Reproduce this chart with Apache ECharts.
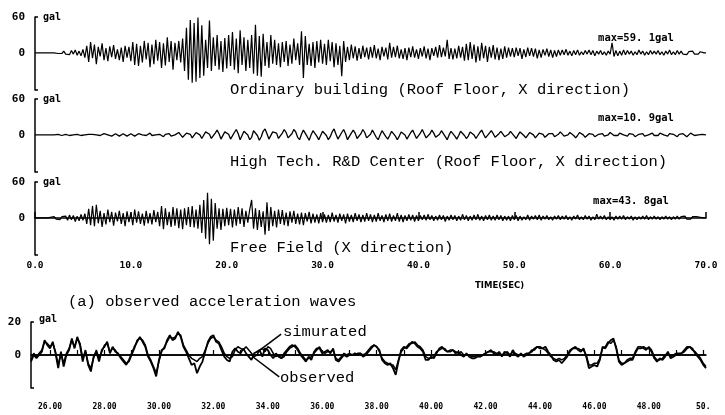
<!DOCTYPE html>
<html>
<head>
<meta charset="utf-8">
<script src="https://cdn.jsdelivr.net/npm/echarts@6/dist/echarts.min.js"></script>
<style>html,body{margin:0;padding:0;background:#fff}#c{width:725px;height:415px}</style>
</head>
<body>
<div id="c"></div>
<script>
// ---- time bases ----
const topStart = 0, topStep = 0.2;      // seconds
const botStart = 25.3, botStep = 0.1;   // seconds

// ---- (a) observed acceleration (gal), one value every 0.2 s from 0 s ----
const ordinaryBuilding = [
  0,0,0,0,0,0,0,0,0,0,0,1,-1,2,-1,3,-2,1,-3,4,-2,5,-4,3,-5,
  6,-8,12,-15,18,-9,14,-19,10,-6,16,-12,8,-14,11,-7,13,-10,6,-12,9,-15,12,-8,10,
  -14,18,-20,15,-22,12,-16,20,-11,17,-24,14,-19,22,-13,18,-25,16,-21,26,-15,20,-28,17,-12,
  20,-16,24,-30,42,-45,55,-50,50,-48,59,-42,46,-38,22,-25,54,-30,26,-22,30,-28,20,-32,25,
  -26,30,-22,35,-28,24,-34,38,-20,26,-30,22,-25,30,-35,47,-38,28,-40,32,-22,18,-25,30,-18,
  22,-20,16,-24,18,-15,20,-22,14,-18,24,-12,16,-20,36,-42,28,-20,15,-22,18,-25,20,-16,22,
  -18,15,-20,22,-14,18,-24,16,-20,12,-39,20,-15,10,-12,14,-9,11,-13,8,-10,12,-7,9,-11,
  10,-8,13,-9,7,-12,10,-6,9,-11,17,-8,10,-7,12,-9,6,-10,8,-12,9,-7,11,-8,6,
  -10,8,-6,11,-9,7,-12,8,-5,10,-8,13,-7,9,-6,22,-10,8,-11,7,-9,12,-8,10,-13,
  15,-12,18,-10,14,-16,11,-13,17,-9,12,-15,10,-8,13,-11,9,-12,7,-10,11,-8,9,-6,8,
  -7,9,-5,8,-10,6,-7,9,-5,8,-6,7,-9,5,-8,6,-4,7,-6,5,-8,4,-6,5,-4,
  5,-3,6,-4,3,-5,4,-3,5,-4,2,-3,4,-2,5,-3,4,-5,3,-2,4,-3,2,-4,3,
  -2,17,-6,4,-5,3,-4,5,-3,4,-2,3,-4,2,-3,5,-2,3,-4,2,-3,4,-2,3,-2,
  4,-3,2,-4,3,-2,5,-3,2,-3,4,-2,3,-2,1,-3,2,-1,3,-2,1,-2,2,-1,0,0
];
const highTech = [
  0,0,0,0,0,0,0,0,0,0,0,0,1,0,-1,0,1,0,-1,1,0,-1,1,0,-1,
  1,0,-1,1,0,1,-1,0,1,-1,0,2,-1,0,1,-2,1,2,0,-2,1,2,-1,-2,1,
  2,0,-2,-1,2,3,0,-3,-1,2,3,-1,-3,0,2,1,-2,-3,1,3,2,-2,-4,0,3,
  4,0,-4,-2,3,5,1,-5,-3,4,6,0,-6,-3,5,7,1,-6,-5,3,8,2,-7,-4,5,
  8,1,-7,-6,4,9,2,-8,-5,6,9,0,-8,-4,7,8,-1,-9,-3,6,10,2,-7,-6,5,
  8,3,-6,-7,3,9,4,-5,-8,2,9,5,-4,-8,1,8,6,-3,-9,0,7,7,-2,-8,-1,
  6,9,-1,-8,-3,5,10,1,-7,-5,4,9,2,-8,-6,3,8,3,-6,-7,2,9,4,-5,-7,
  1,8,5,-4,-8,0,7,6,-3,-7,-1,6,7,-2,-8,-2,5,8,0,-7,-4,4,8,1,-6,
  -5,3,9,2,-5,-7,2,8,3,-4,-7,1,7,4,-3,-8,0,6,5,-2,-7,-1,6,6,-1,
  -6,-2,5,7,0,-6,-3,4,8,1,-5,-5,3,7,2,-4,-6,2,6,3,-3,-6,1,6,4,
  -2,-6,0,5,5,-1,-5,-2,4,6,0,-5,-3,3,6,1,-4,-4,2,5,2,-3,-5,1,5,
  3,-2,-5,0,4,4,-1,-5,-1,4,5,0,-4,-3,2,5,1,-3,-4,1,4,2,-2,-4,0,
  4,3,-1,-4,-1,3,4,0,-3,-2,2,4,1,-3,-3,1,4,2,-2,-3,0,3,3,-1,-3,
  -1,3,4,0,-3,-2,2,4,1,-2,-3,1,3,2,-1,-3,0,3,2,-1,-2,0,2,1,-1,0
];
const freeField = [
  0,0,0,0,0,0,0,0,1,-1,2,-2,1,-3,2,-1,3,-4,5,-3,4,-6,3,-5,6,
  -4,7,-10,15,-12,20,-14,22,-9,12,-15,8,-11,14,-7,10,-13,9,-6,12,-10,8,-14,11,-7,
  9,-12,14,-8,11,-10,7,-13,12,-9,8,-11,13,-7,10,-14,20,-19,16,-12,10,-15,18,-13,16,
  -17,14,-19,16,-12,18,-15,20,-16,14,-18,22,-25,30,-35,42,-44,32,-38,25,-18,16,-20,15,-14,
  17,-12,15,-16,14,-13,18,-10,16,-15,12,-8,14,30,-18,16,-20,13,-15,11,-28,26,-22,18,-14,
  12,-16,14,-10,13,-12,9,-14,11,-8,12,-10,7,-11,9,-12,8,-6,10,-9,7,-8,6,-9,8,
  -7,6,-8,5,-7,9,-6,5,-8,7,-5,6,-9,7,-6,5,-7,8,-5,6,-7,5,-6,8,-5,
  6,-7,5,-6,8,-5,4,-7,6,-5,7,-6,4,-5,8,-6,5,-7,4,-5,6,-4,5,-6,4,
  -5,4,-3,5,-4,6,-3,4,-5,3,-4,5,-3,4,-6,3,-4,5,-3,4,-5,3,-4,6,-3,
  4,-5,3,-4,5,-3,6,-4,3,-5,4,-3,5,-4,3,-4,5,-3,4,-5,3,-4,3,-5,4,
  -3,4,-5,3,-4,2,-3,5,-4,3,-2,4,-3,5,-4,3,-2,4,-3,2,-4,3,-2,4,-3,
  3,-2,4,-3,2,-4,3,-2,5,-3,2,-3,4,-2,3,-4,2,-3,6,-2,3,-2,4,-3,2,
  -3,2,-4,3,-2,3,-2,4,-3,2,-2,3,-4,2,-3,2,-2,3,-2,4,-3,2,-2,3,-2,
  2,-3,2,-2,3,-2,2,-3,2,-2,3,-2,2,-1,3,-2,1,-2,2,-1,2,-1,1,-1,0,0
];

// ---- bottom panel: one value every 0.1 s from 25.3 s ----
const observed = [
  -4,0,-2,0,2,9,6,4,8,1,
  -8,2,-7,0,3,10,4,11,6,-4,
  3,-6,-10,-1,2,-4,3,5,8,1,
  5,2,1,-2,-4,-6,-3,1,5,8,
  11,8,5,-1,-4,-8,-13,-3,3,4,
  9,12,9,10,14,11,5,2,-2,-6,
  -5,-11,-7,-4,2,8,11,12,8,7,
  3,-1,-3,-4,2,4,2,1,4,1,
  -1,-3,1,2,3,-1,4,3,0,-2,
  1,-1,-2,1,3,5,6,5,3,0,
  -2,-4,-1,-3,2,4,4,1,2,3,
  1,4,-3,-4,-2,0,-1,0,0,1,
  0,1,-1,0,2,4,6,5,3,-3,
  -5,-6,-5,-8,-12,-4,3,5,4,6,
  8,7,5,4,2,-3,-3,-1,-2,1,
  4,5,3,2,2,3,1,2,0,-1,
  1,-1,-2,-2,-1,-1,0,1,2,3,
  1,0,2,-1,2,1,-1,3,0,-1,
  1,-1,0,1,2,4,5,4,4,5,
  2,0,-3,-4,-3,-5,-3,-1,2,4,
  5,3,2,4,-1,-8,-7,-6,-7,-3,
  5,4,7,9,10,4,-4,-6,-5,-4,
  -3,-3,1,4,4,5,4,4,2,-2,
  -4,-2,-3,-1,2,-2,-1,0,0,1,
  2,4,5,4,1,-1,-3,-6,-8
];
const simulated = [
  -3,1,-1,1,3,8,7,5,7,2,
  -6,1,-5,1,4,9,5,10,7,-2,
  2,-5,-8,-2,3,-2,2,6,7,2,
  4,3,0,-1,-3,-5,-4,0,4,9,
  10,9,6,0,-3,-7,-11,-4,2,5,
  8,11,10,11,13,12,6,3,0,-2,
  -3,-4,-2,-1,3,7,10,11,9,8,
  5,1,-1,-2,-1,3,5,4,3,5,
  3,1,-1,0,3,4,2,5,4,1,
  -1,0,-2,-1,2,4,5,6,4,1,
  -1,-3,-2,-1,1,3,5,2,1,2,
  2,3,-2,-3,-1,1,0,1,0,0,
  1,1,0,1,3,5,6,5,2,-2,
  -4,-5,-6,-6,-9,-3,2,4,5,7,
  7,8,6,5,3,-1,-2,-2,-1,2,
  3,4,4,2,3,3,2,1,2,0,
  0,0,-1,-1,0,-1,0,1,2,2,
  2,1,1,0,1,2,0,2,1,0,
  0,0,1,1,3,3,5,5,4,3,
  1,-1,-2,-3,-2,-3,-2,0,3,4,
  4,4,3,3,0,-6,-6,-5,-5,-2,
  4,5,8,7,9,5,-3,-5,-5,-3,
  -2,-2,2,5,5,4,3,5,3,-1,
  -3,-3,-2,0,1,-1,0,1,1,1,
  3,5,5,3,2,0,-2,-5,-7
];

// ---- ticks and texts ----
const topXTicks = [0,10,20,30,40,50,60,70];
const topYLabels = [0,60];
const botXMinor = [26,27,28,29,30,31,32,33,34,35,36,37,38,39,40,41,42,43,44,45,46,47,48,49,50];
const botXTicks = [26,28,30,32,34,36,38,40,42,44,46,48,50];
const botYLabels = [0,20];
const traceTitles = ['Ordinary building (Roof Floor, X direction)', 'High Tech. R&D Center (Roof Floor, X direction)', 'Free Field (X direction)'];
const maxLabels = ['max=59. 1gal', 'max=10. 9gal', 'max=43. 8gal'];
// pointer lines (data coords) for the two series annotations
const pointers = [[[34.49,12.7],[33.61,1.8]], [[34.42,-13.3],[33.46,-1.2]]];

function pairs(arr, t0, dt) { return arr.map((v, i) => [+(t0 + i * dt).toFixed(3), v]); }

const black = '#000';
const monoB = {fontFamily: 'DejaVu Sans Mono', fontWeight: 'bold', color: black};
const serif = 'Liberation Mono';

const topGrids = [17, 99, 182];
const grid = topGrids.map(t => ({left: 35, width: 671, top: t, height: 73}));
grid.push({left: 31, width: 675, top: 322, height: 66});

const xAxis = [0,1].map(i => ({type: 'value', gridIndex: i, min: 0, max: 70, show: false}));
xAxis.push({
  type: 'value', gridIndex: 2, min: 0, max: 70, interval: 10, offset: 21,
  axisLine: {lineStyle: {color: black, width: 1.5}},
  axisTick: {inside: true, length: 6, lineStyle: {color: black, width: 1.5}},
  axisLabel: Object.assign({inside: true, margin: 5, fontSize: 9.5, customValues: topXTicks, showMinLabel: true, showMaxLabel: true, formatter: v => v.toFixed(1)}, monoB),
  splitLine: {show: false}
});
xAxis.push({
  type: 'value', gridIndex: 3, min: 25.3, max: 50.1, offset: 7,
  axisLine: {lineStyle: {color: black, width: 1.5}},
  axisTick: {inside: true, length: 5, customValues: botXMinor, lineStyle: {color: black, width: 1.2}},
  axisLabel: Object.assign({margin: 8, fontSize: 8, customValues: botXTicks, formatter: v => v === 50 ? '50.' : v.toFixed(2)}, monoB),
  splitLine: {show: false}
});

function yAx(i, mn, mx, tickVals, labVals, gap) {
  return {
    type: 'value', gridIndex: i, min: mn, max: mx,
    axisLine: {show: true, lineStyle: {color: black, width: 1.5}},
    axisTick: {show: true, inside: true, length: 3, customValues: tickVals, lineStyle: {color: black, width: 1.5}},
    axisLabel: Object.assign({margin: 10, fontSize: 11, customValues: labVals}, monoB),
    splitLine: {show: false},
    name: 'gal', nameLocation: 'end', nameGap: gap,
    nameTextStyle: Object.assign({fontSize: 10, align: 'left', verticalAlign: 'middle', padding: [0,0,0,8]}, monoB)
  };
}
const yAxis = [0,1,2].map(i => yAx(i, -62, 60, [60, -62], topYLabels, 0));
yAxis.push(yAx(3, -20, 20, [20, -20], botYLabels, 3));

const lineBase = {type: 'line', showSymbol: false, symbol: 'none', animation: false, silent: true};
const series = [
  Object.assign({}, lineBase, {xAxisIndex: 0, yAxisIndex: 0, data: pairs(ordinaryBuilding, topStart, topStep), lineStyle: {color: black, width: 1.2}}),
  Object.assign({}, lineBase, {xAxisIndex: 1, yAxisIndex: 1, data: pairs(highTech, topStart, topStep), lineStyle: {color: black, width: 1.3}}),
  Object.assign({}, lineBase, {xAxisIndex: 2, yAxisIndex: 2, data: pairs(freeField, topStart, topStep), lineStyle: {color: black, width: 1.2}}),
  Object.assign({}, lineBase, {xAxisIndex: 3, yAxisIndex: 3, data: pairs(simulated, botStart, botStep), lineStyle: {color: black, width: 1.5}}),
  Object.assign({}, lineBase, {xAxisIndex: 3, yAxisIndex: 3, data: pairs(observed, botStart, botStep), lineStyle: {color: black, width: 1.8},
    markLine: {
      silent: true, symbol: 'none', animation: false, label: {show: false},
      lineStyle: {color: black, width: 1.5, type: 'solid'},
      data: [{yAxis: 0}].concat(pointers.map(p => [{coord: p[0]}, {coord: p[1]}]))
    }})
];

function txt(x, y, text, style) {
  return {type: 'text', x: x, y: y, silent: true,
    style: Object.assign({text: text, fill: black, verticalAlign: 'middle', textVerticalAlign: 'middle'}, style)};
}
const serifStyle = {fontFamily: serif, fontSize: 15.5};
const smallStyle = {fontFamily: 'DejaVu Sans Mono', fontWeight: 'bold', fontSize: 10.5, align: 'center', textAlign: 'center'};
const graphic = [
  txt(230, 90, traceTitles[0], serifStyle),
  txt(230, 162, traceTitles[1], serifStyle),
  txt(230, 248, traceTitles[2], serifStyle),
  txt(636, 38, maxLabels[0], smallStyle),
  txt(636, 118, maxLabels[1], smallStyle),
  txt(631, 201, maxLabels[2], smallStyle),
  txt(475, 286, 'TIME(SEC)', {fontFamily: 'DejaVu Sans', fontWeight: 'bold', fontSize: 8.5}),
  txt(68, 302, '(a) observed acceleration waves', serifStyle),
  txt(283, 332, 'simurated', serifStyle),
  txt(280, 378, 'observed', serifStyle)
];

const chart = echarts.init(document.getElementById('c'), null, {renderer: 'canvas'});
chart.setOption({
  backgroundColor: '#fff',
  animation: false,
  grid: grid, xAxis: xAxis, yAxis: yAxis, series: series, graphic: graphic
});
</script>
</body>
</html>
